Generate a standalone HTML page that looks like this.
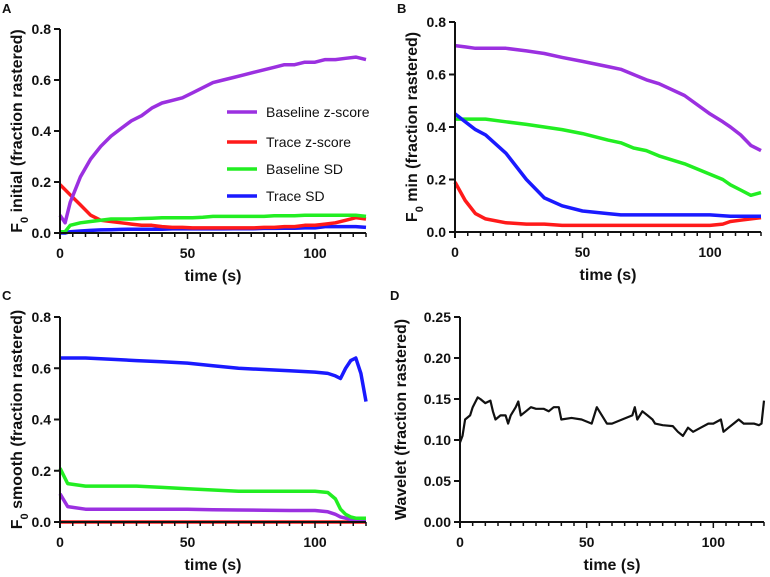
<!DOCTYPE html>
<html><head><meta charset="utf-8"><style>
html,body{margin:0;padding:0;background:#fff;}
svg{display:block;font-family:"Liberation Sans",Arial,sans-serif;}
.tk{font-weight:bold;font-size:14px;fill:#111;}
.tt{font-weight:bold;font-size:16px;fill:#111;}
.pl{font-weight:bold;font-size:13px;fill:#111;}
.lg{font-size:14px;fill:#111;}
</style></head><body>
<svg id="fig" width="770" height="577" viewBox="0 0 770 577"></svg>
<script>
// ---- data ----
const tA = [0,2,4,8,12,16,20,24,28,32,36,40,44,48,52,56,60,64,68,72,76,80,84,88,92,96,100,104,108,112,116,120];
const aBaseZ = [0.07,0.04,0.12,0.22,0.29,0.34,0.38,0.41,0.44,0.46,0.49,0.51,0.52,0.53,0.55,0.57,0.59,0.60,0.61,0.62,0.63,0.64,0.65,0.66,0.66,0.67,0.67,0.68,0.68,0.685,0.69,0.68];
const aTraceZ = [0.19,0.17,0.15,0.11,0.07,0.05,0.045,0.04,0.035,0.03,0.03,0.025,0.022,0.022,0.02,0.02,0.02,0.02,0.02,0.02,0.02,0.022,0.022,0.025,0.025,0.03,0.03,0.035,0.04,0.05,0.06,0.055];
const aBaseSD = [0.005,0.005,0.03,0.04,0.045,0.05,0.055,0.055,0.055,0.057,0.058,0.06,0.06,0.06,0.06,0.062,0.065,0.065,0.065,0.065,0.065,0.065,0.068,0.068,0.068,0.07,0.07,0.07,0.07,0.07,0.07,0.065];
const aTraceSD = [0,0,0.005,0.008,0.01,0.012,0.013,0.014,0.015,0.015,0.015,0.015,0.016,0.016,0.016,0.016,0.016,0.016,0.017,0.017,0.017,0.018,0.018,0.019,0.019,0.02,0.02,0.025,0.025,0.025,0.025,0.022];
const tB = [0,4,8,12,20,28,35,42,50,60,65,70,75,80,90,100,105,108,112,116,120];
const bBaseZ = [0.71,0.705,0.70,0.70,0.70,0.69,0.68,0.665,0.65,0.63,0.62,0.60,0.58,0.565,0.52,0.45,0.42,0.40,0.37,0.33,0.31];
const bTraceZ = [0.19,0.12,0.07,0.05,0.035,0.03,0.03,0.025,0.025,0.025,0.025,0.025,0.025,0.025,0.025,0.025,0.03,0.04,0.045,0.05,0.055];
const bBaseSD = [0.43,0.43,0.43,0.43,0.42,0.41,0.40,0.39,0.375,0.35,0.34,0.32,0.31,0.29,0.26,0.22,0.20,0.18,0.16,0.14,0.15];
const bTraceSD = [0.45,0.42,0.39,0.37,0.30,0.20,0.13,0.10,0.08,0.07,0.065,0.065,0.065,0.065,0.065,0.065,0.062,0.06,0.06,0.06,0.06];
const tC = [0,3,10,20,30,40,50,60,70,80,90,100,105,108,110,112,114,116,118,120];
const cBaseZ = [0.11,0.06,0.05,0.05,0.05,0.05,0.05,0.048,0.047,0.046,0.045,0.045,0.04,0.03,0.02,0.015,0.01,0.01,0.01,0.01];
const cTraceZ = [0,0,0,0,0,0,0,0,0,0,0,0,0,0,0,0,0,0,0,0];
const cBaseSD = [0.21,0.15,0.14,0.14,0.14,0.135,0.13,0.125,0.12,0.12,0.12,0.12,0.115,0.09,0.05,0.03,0.02,0.015,0.015,0.015];
const cTraceSD = [0.64,0.64,0.64,0.635,0.63,0.625,0.62,0.61,0.60,0.595,0.59,0.585,0.58,0.57,0.56,0.60,0.63,0.64,0.58,0.47];
const tD = [0,1,2,4,5,7,8,10,12,13,14,16,18,19,20,22,23,24,26,28,30,33,35,37,39,40,44,48,52,54,56,58,60,64,68,69,70,72,74,76,77,80,84,86,88,90,92,95,98,100,103,104,106,108,110,112,116,118,119,120];
const dWave = [0.097,0.105,0.125,0.13,0.14,0.152,0.15,0.145,0.148,0.135,0.125,0.13,0.13,0.12,0.13,0.14,0.147,0.13,0.135,0.14,0.138,0.138,0.135,0.14,0.14,0.125,0.127,0.125,0.12,0.14,0.13,0.12,0.12,0.125,0.13,0.14,0.125,0.135,0.13,0.125,0.12,0.118,0.117,0.11,0.105,0.115,0.11,0.115,0.12,0.12,0.125,0.11,0.115,0.12,0.125,0.12,0.12,0.118,0.12,0.148];
const yTicksABC = [0,0.2,0.4,0.6,0.8];
const yTicksD = [0,0.05,0.1,0.15,0.2,0.25];
const xTicks = [0,50,100];
const legendLabels = ["Baseline z-score","Trace z-score","Baseline SD","Trace SD"];
// ---- drawing ----
const NS="http://www.w3.org/2000/svg";
const svg=document.getElementById('fig');
function mk(tag,attrs,parent){const e=document.createElementNS(NS,tag);for(const k in attrs)e.setAttribute(k,attrs[k]);(parent||svg).appendChild(e);return e;}
const COL={bz:"#9b30e0",tz:"#ff1a1a",bs:"#22ee22",ts:"#1a1aff",k:"#111"};
function panel(o){
  const g=mk('g',{});
  
  
  const xs=v=>o.x0+v*(o.x1-o.x0)/120;
  const ys=v=>o.yb-(v/o.ymax)*(o.yb-o.yt);
  o.series.forEach(s=>{
    const d=s.t.map((t,i)=>(i?'L':'M')+xs(t).toFixed(1)+','+ys(s.v[i]).toFixed(1)).join('');
    const p=mk('path',{d:d,fill:'none',stroke:s.c,'stroke-width':s.w||3.5,'stroke-linejoin':'round'},g);
    
    
  });
  const ya=mk('line',{x1:o.x0,y1:o.yt,x2:o.x0,y2:o.yb+1,stroke:'#111','stroke-width':2},g);
  
  
  const xa=mk('line',{x1:o.x0-1,y1:o.yb,x2:o.x1,y2:o.yb,stroke:'#111','stroke-width':2},g);
  
  
  o.yticks.forEach(v=>{
    mk('line',{x1:o.x0-6,y1:ys(v),x2:o.x0,y2:ys(v),stroke:'#111','stroke-width':2},g);
    const t=mk('text',{x:o.x0-9,y:ys(v)+5,'text-anchor':'end',class:'tk'},g);
    t.textContent=o.fmt(v);
    
    
  });
  for(let v=5;v<=120;v+=5){mk('line',{x1:xs(v),y1:o.yb,x2:xs(v),y2:o.yb+(v%50===0?6:4),stroke:'#111','stroke-width':1.5},g);}
  mk('line',{x1:xs(0),y1:o.yb,x2:xs(0),y2:o.yb+6,stroke:'#111','stroke-width':2},g);
  xTicks.forEach(v=>{
    const t=mk('text',{x:xs(v),y:o.yb+25,'text-anchor':'middle',class:'tk'},g);
    t.textContent=v;
    
    
  });
  const xt=mk('text',{x:(o.x0+o.x1)/2,y:o.yb+48,'text-anchor':'middle',class:'tt'},g);
  xt.textContent='time (s)';
  
  
  const yt=mk('text',{x:0,y:0,'text-anchor':'middle',class:'tt',transform:`translate(${o.ytx},${(o.yt+o.yb)/2}) rotate(-90)`},g);
  yt.innerHTML=o.ytitle;
  
  
  const pl=mk('text',{x:o.lx,y:o.ly,class:'pl'},g);
  pl.textContent=o.id;
  
  
  return g;
}
const f1=v=>v.toFixed(1), f2=v=>v.toFixed(2);
const F0=w=>`F<tspan baseline-shift="sub" font-size="11">0</tspan> ${w} (fraction rastered)`;
panel({id:'A',x0:60,x1:366,yt:29,yb:233,ymax:0.8,yticks:yTicksABC,fmt:f1,ytx:22,ytitle:F0('initial'),lx:2,ly:13,
 series:[{t:tA,v:aTraceSD,c:COL.ts,name:'trace-sd-line'},{t:tA,v:aTraceZ,c:COL.tz,name:'trace-zscore-line'},{t:tA,v:aBaseSD,c:COL.bs,name:'baseline-sd-line'},{t:tA,v:aBaseZ,c:COL.bz,name:'baseline-zscore-line'}]});
panel({id:'B',x0:455,x1:761,yt:22,yb:232,ymax:0.8,yticks:yTicksABC,fmt:f1,ytx:417,ytitle:F0('min'),lx:397,ly:13,
 series:[{t:tB,v:bTraceZ,c:COL.tz,name:'trace-zscore-line'},{t:tB,v:bBaseSD,c:COL.bs,name:'baseline-sd-line'},{t:tB,v:bTraceSD,c:COL.ts,name:'trace-sd-line'},{t:tB,v:bBaseZ,c:COL.bz,name:'baseline-zscore-line'}]});
panel({id:'C',x0:60,x1:366,yt:317,yb:522,ymax:0.8,yticks:yTicksABC,fmt:f1,ytx:22,ytitle:F0('smooth'),lx:2,ly:300,
 series:[{t:tC,v:cTraceZ,c:COL.tz,name:'trace-zscore-line'},{t:tC,v:cBaseZ,c:COL.bz,name:'baseline-zscore-line'},{t:tC,v:cBaseSD,c:COL.bs,name:'baseline-sd-line'},{t:tC,v:cTraceSD,c:COL.ts,name:'trace-sd-line'}]});
panel({id:'D',x0:460,x1:764,yt:317,yb:522,ymax:0.25,yticks:yTicksD,fmt:f2,ytx:406,ytitle:'Wavelet (fraction rastered)',lx:390,ly:300,
 series:[{t:tD,v:dWave,c:COL.k,w:2.2,name:'wavelet-line'}]});
const lg=mk('g',{});


const lc=[COL.bz,COL.tz,COL.bs,COL.ts], ly=[112,142,169,196];
legendLabels.forEach((lab,i)=>{
  const e=mk('g',{},lg);
  
  
  mk('line',{x1:227,y1:ly[i],x2:257,y2:ly[i],stroke:lc[i],'stroke-width':3.5},e);
  const t=mk('text',{x:266,y:ly[i]+5,class:'lg'},e);
  t.textContent=lab;
});
</script>
</body></html>
